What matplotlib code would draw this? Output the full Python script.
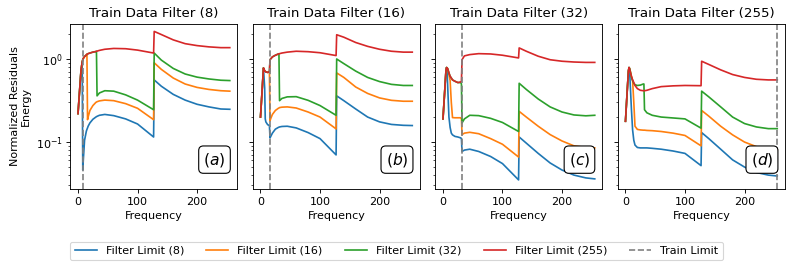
import numpy as np
import matplotlib
matplotlib.use("Agg")
import matplotlib.pyplot as plt

# --------------------------------------------------------
# DATA
# --------------------------------------------------------

filter_limits = [8, 16, 32, 255]
train_limits = [8, 16, 32, 255]
panel_tags = ["a", "b", "c", "d"]

# panel (a) : train filter 8
freq_a = [0, 3, 5, 7, 8, 9, 11, 14, 15, 16, 17, 20, 25, 30, 31, 32, 36, 45, 60, 80,
          100, 127, 128, 140, 160, 180, 200, 220, 240, 255]
blue_a = [0.22, 0.45, 0.72, 0.92, 0.046, 0.062, 0.105, 0.135, 0.142, 0.148, 0.155, 0.17,
          0.188, 0.2, 0.202, 0.204, 0.21, 0.215, 0.208, 0.19, 0.165, 0.115, 0.56, 0.47,
          0.375, 0.32, 0.285, 0.265, 0.25, 0.248]
orange_a = [0.22, 0.45, 0.72, 0.92, 0.98, 1.02, 1.07, 1.12, 1.14, 0.186, 0.20, 0.24,
            0.275, 0.30, 0.303, 0.306, 0.313, 0.32, 0.315, 0.29, 0.255, 0.186, 0.90, 0.75,
            0.59, 0.50, 0.455, 0.43, 0.415, 0.41]
green_a = [0.22, 0.45, 0.72, 0.92, 0.98, 1.02, 1.07, 1.12, 1.14, 1.15, 1.16, 1.18,
           1.21, 1.23, 1.24, 0.36, 0.39, 0.415, 0.41, 0.37, 0.32, 0.245, 1.18, 0.97,
           0.77, 0.66, 0.605, 0.575, 0.555, 0.55]
red_a = [0.22, 0.45, 0.72, 0.92, 0.98, 1.02, 1.07, 1.12, 1.14, 1.15, 1.16, 1.18,
         1.21, 1.23, 1.24, 1.245, 1.27, 1.31, 1.34, 1.33, 1.28, 1.18, 2.15, 1.97,
         1.70, 1.53, 1.45, 1.40, 1.37, 1.37]

# panel (b) : train filter 16
freq_b = [0, 3, 5, 7, 8, 9, 12, 15, 16, 17, 20, 25, 30, 31, 32, 36, 45, 60, 80, 100,
          127, 128, 140, 160, 180, 200, 220, 240, 255]
blue_b = [0.20, 0.45, 0.78, 0.45, 0.19, 0.175, 0.162, 0.158, 0.112, 0.116, 0.128, 0.143,
          0.15, 0.151, 0.152, 0.154, 0.155, 0.148, 0.13, 0.11, 0.07, 0.36, 0.315, 0.25,
          0.20, 0.175, 0.163, 0.159, 0.158]
orange_b = [0.20, 0.45, 0.78, 0.72, 0.71, 0.70, 0.69, 0.70, 0.18, 0.19, 0.215, 0.24,
            0.255, 0.257, 0.26, 0.263, 0.265, 0.257, 0.23, 0.20, 0.144, 0.68, 0.60, 0.46,
            0.385, 0.34, 0.318, 0.31, 0.31]
green_b = [0.20, 0.45, 0.78, 0.72, 0.71, 0.70, 0.69, 0.70, 0.98, 1.0, 1.06, 1.11,
           1.15, 1.155, 0.315, 0.335, 0.35, 0.352, 0.318, 0.275, 0.21, 1.0, 0.88, 0.715,
           0.60, 0.535, 0.495, 0.48, 0.48]
red_b = [0.20, 0.45, 0.78, 0.72, 0.71, 0.70, 0.69, 0.70, 0.98, 1.0, 1.06, 1.11,
         1.15, 1.155, 1.16, 1.18, 1.21, 1.24, 1.225, 1.19, 1.10, 1.96, 1.83, 1.58,
         1.42, 1.31, 1.24, 1.21, 1.21]

# panel (c) : train filter 32
freq_c = [0, 3, 5, 6, 7, 8, 10, 12, 14, 16, 20, 25, 30, 31, 32, 36, 45, 60, 80, 100,
          127, 128, 140, 160, 180, 200, 220, 240, 255]
blue_c = [0.19, 0.42, 0.72, 0.79, 0.70, 0.45, 0.20, 0.15, 0.128, 0.122, 0.117, 0.115,
          0.112, 0.11, 0.077, 0.08, 0.082, 0.077, 0.067, 0.055, 0.035, 0.115, 0.097,
          0.073, 0.056, 0.046, 0.04, 0.037, 0.036]
orange_c = [0.19, 0.42, 0.72, 0.79, 0.78, 0.76, 0.65, 0.55, 0.30, 0.197, 0.196, 0.196,
            0.196, 0.195, 0.123, 0.128, 0.131, 0.126, 0.11, 0.094, 0.066, 0.234, 0.20,
            0.155, 0.123, 0.103, 0.09, 0.086, 0.085]
green_c = [0.19, 0.42, 0.72, 0.79, 0.78, 0.76, 0.68, 0.62, 0.59, 0.56, 0.54, 0.52,
           0.52, 0.50, 0.17, 0.19, 0.21, 0.208, 0.193, 0.172, 0.134, 0.51, 0.43, 0.33,
           0.265, 0.23, 0.212, 0.207, 0.21]
red_c = [0.19, 0.42, 0.72, 0.79, 0.78, 0.76, 0.68, 0.62, 0.59, 0.56, 0.54, 0.52,
         0.53, 0.54, 0.98, 1.09, 1.13, 1.16, 1.15, 1.11, 1.03, 1.36, 1.24, 1.08,
         0.98, 0.94, 0.92, 0.91, 0.91]

# panel (d) : train filter 255
freq_d = [0, 3, 5, 6, 7, 8, 10, 12, 14, 16, 20, 25, 30, 31, 32, 36, 45, 60, 80, 100,
          127, 128, 140, 160, 180, 200, 220, 240, 255]
blue_d = [0.178, 0.42, 0.72, 0.79, 0.70, 0.50, 0.25, 0.14, 0.105, 0.092, 0.086, 0.085,
          0.085, 0.085, 0.085, 0.085, 0.084, 0.082, 0.078, 0.073, 0.052, 0.13, 0.11,
          0.082, 0.061, 0.05, 0.043, 0.04, 0.039]
orange_d = [0.178, 0.42, 0.72, 0.79, 0.77, 0.72, 0.62, 0.55, 0.30, 0.155, 0.142, 0.14,
            0.139, 0.139, 0.139, 0.138, 0.137, 0.134, 0.128, 0.12, 0.09, 0.24, 0.205,
            0.155, 0.122, 0.10, 0.088, 0.082, 0.08]
green_d = [0.178, 0.42, 0.72, 0.79, 0.77, 0.72, 0.60, 0.55, 0.51, 0.49, 0.48, 0.485,
           0.50, 0.50, 0.245, 0.225, 0.21, 0.20, 0.195, 0.19, 0.147, 0.41, 0.35, 0.265,
           0.20, 0.167, 0.152, 0.145, 0.145]
red_d = [0.178, 0.42, 0.72, 0.79, 0.76, 0.70, 0.62, 0.56, 0.52, 0.48, 0.44, 0.42,
         0.415, 0.415, 0.415, 0.42, 0.44, 0.465, 0.475, 0.48, 0.477, 0.94, 0.86, 0.74,
         0.65, 0.60, 0.57, 0.56, 0.56]

freqs = [freq_a, freq_b, freq_c, freq_d]
curves = [
    [blue_a, orange_a, green_a, red_a],
    [blue_b, orange_b, green_b, red_b],
    [blue_c, orange_c, green_c, red_c],
    [blue_d, orange_d, green_d, red_d],
]

# --------------------------------------------------------
# PLOT
# --------------------------------------------------------

fig, axes = plt.subplots(1, 4, sharey=True, figsize=(793 / 80, 269 / 80))
fig.subplots_adjust(left=0.0888, right=0.9897, top=0.9108, bottom=0.2974, wspace=0.093)

for i, ax in enumerate(axes):
    for j, vals in enumerate(curves[i]):
        ax.plot(freqs[i], vals, color=f"C{j}", label=f"Filter Limit ({filter_limits[j]})")
    ax.axvline(train_limits[i], color="gray", linestyle="--", label="Train Limit")
    ax.set_yscale("log")
    ax.set_xlim(-12.75, 267.75)
    ax.set_ylim(0.0272, 2.64)
    ax.set_title(f"Train Data Filter ({train_limits[i]})")
    ax.set_xlabel("Frequency")
    ax.text(0.863, 0.178, f"$({panel_tags[i]})$", transform=ax.transAxes,
            fontsize=14, ha="center", va="center",
            bbox=dict(boxstyle="round", facecolor="white", edgecolor="black"))

axes[0].set_ylabel("Normalized Residuals\nEnergy")

handles, labels = axes[0].get_legend_handles_labels()
fig.legend(handles, labels, loc="center", bbox_to_anchor=(0.5, 0.067), ncol=5)

fig.savefig("out.png", dpi=80)
